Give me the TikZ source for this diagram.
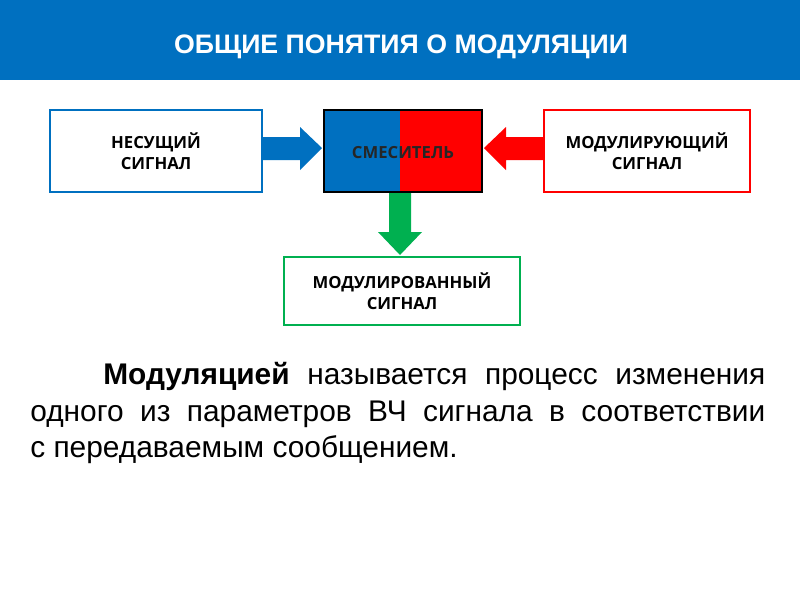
\documentclass[tikz,border=0pt]{standalone}
\usepackage{fontspec}
\setmainfont{Liberation Sans}
\newfontfamily\boxfont{Open Sans}
\definecolor{hblue}{RGB}{0,112,192}
\definecolor{mred}{RGB}{255,0,0}
\definecolor{mgreen}{RGB}{0,176,80}
\begin{document}
\begin{tikzpicture}[x=0.02cm,y=-0.02cm,
  sbox/.style={draw,line width=1.5pt,fill=white,align=center,font=\boxfont\bfseries\fontsize{9.5}{12}\selectfont,inner sep=0pt}]
\useasboundingbox (0,0) rectangle (800,600);
\fill[hblue] (0,0) rectangle (800,80);
\node[text=white,font=\bfseries\fontsize{15.2}{17}\selectfont] (title) at (401,47) {ОБЩИЕ ПОНЯТИЯ О МОДУЛЯЦИИ};
\node[sbox,draw=hblue,minimum width=212*0.02cm,minimum height=82*0.02cm] (carrier) at (156,151) {НЕСУЩИЙ\\СИГНАЛ};
\node[sbox,draw=mred,minimum width=206*0.02cm,minimum height=82*0.02cm] (modsig) at (647,151) {МОДУЛИРУЮЩИЙ\\СИГНАЛ};
\node[sbox,draw=mgreen,minimum width=236*0.02cm,minimum height=68*0.02cm] (out) at (402,291) {МОДУЛИРОВАННЫЙ\\СИГНАЛ};
\fill[hblue] (324,110) rectangle (400,192);
\fill[mred] (400,110) rectangle (482,192);
\draw[line width=1.2pt] (324,110) rectangle (482,192);
\node[font=\boxfont\bfseries\fontsize{9.5}{12}\selectfont,text=black!85] (mixer) at (403,153) {СМЕСИТЕЛЬ};
% arrows
\fill[hblue] (263,137) -- (300,137) -- (300,127) -- (322,148) -- (300,170) -- (300,160) -- (263,160) -- cycle;
\fill[mred] (543,137) -- (506,137) -- (506,127) -- (484,148) -- (506,170) -- (506,160) -- (543,160) -- cycle;
\fill[mgreen] (389,193) -- (389,232) -- (378,232) -- (400,255) -- (422,232) -- (411,232) -- (411,193) -- cycle;
\node[anchor=north west,inner sep=0pt,text width=735*0.02cm,align=justify,font=\fontsize{17}{20.8}\selectfont] (para) at (30,362)
{\hspace*{1.46cm}\textbf{Модуляцией} называется процесс изменения одного из параметров ВЧ сигнала в~соответствии с~передаваемым сообщением.};
\end{tikzpicture}
\end{document}
